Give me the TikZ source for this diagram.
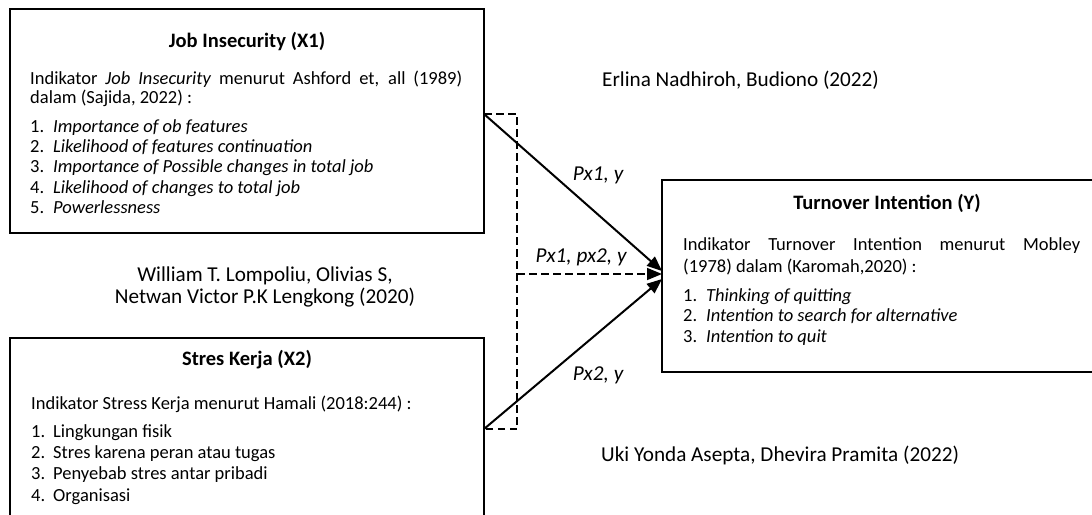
\documentclass[tikz,border=0pt]{standalone}
\usepackage{fontspec}
\setmainfont{Carlito}
\usetikzlibrary{arrows.meta}
\begin{document}
\begin{tikzpicture}[x=1pt,y=-1pt,
  box/.style={draw=black, line width=2.4pt, inner sep=0pt, outer sep=0pt, anchor=north west},
  body/.style={inner sep=0pt, anchor=west, font=\fontsize{18.5}{22}\selectfont, text height=13pt, text depth=4pt},
  ttl/.style={inner sep=0pt, font=\bfseries\fontsize{20.5}{24}\selectfont},
  cite/.style={inner sep=0pt, font=\fontsize{21.2}{22}\selectfont},
  lbl/.style={inner sep=0pt, font=\itshape\fontsize{21.2}{25}\selectfont},
  solidarrow/.style={line width=2pt, -{Triangle[length=15pt,width=12pt]}},
  dashpath/.style={line width=1.6pt, dash pattern=on 7.5pt off 4.5pt}
]
\useasboundingbox (0,0) rectangle (1092,514);
\clip (0,0) rectangle (1092,514);

% boxes
\node[box, minimum width=474pt, minimum height=224pt] (X1) at (10,9) {};
\node[box, minimum width=474pt, minimum height=200pt] (X2) at (10,338) {};
\node[box, minimum width=462pt, minimum height=192pt] (Y) at (662,180) {};

% X1 text
\node[ttl] (tx1) at (247,42) {Job Insecurity (X1)};
\node[body] (ix1a) at (30,80) {\makebox[432pt][s]{Indikator \textit{Job Insecurity} menurut Ashford et, all (1989)}};
\node[body] (ix1b) at (30,99) {dalam (Sajida, 2022) :};
\foreach \n/\yy/\txt in {1/128/Importance of ob features,
                        2/148/Likelihood of features continuation,
                        3/168/Importance of Possible changes in total job,
                        4/189/Likelihood of changes to total job,
                        5/209/Powerlessness}{
  \node[body] (nx1\n) at (30,\yy) {\n.};
  \node[body] (lx1\n) at (53,\yy) {\textit{\txt}};
}

% X2 text
\node[ttl] (tx2) at (247,360) {Stres Kerja (X2)};
\node[body] (ix2) at (31,405) {Indikator Stress Kerja menurut Hamali (2018:244) :};
\foreach \n/\yy/\txt in {1/433/Lingkungan fisik,
                        2/454/Stres karena peran atau tugas,
                        3/475/Penyebab stres antar pribadi,
                        4/497/Organisasi}{
  \node[body] (nx2\n) at (31,\yy) {\n.};
  \node[body] (lx2\n) at (53,\yy) {\txt};
}

% Y text
\node[ttl] (ty) at (887,203) {Turnover Intention (Y)};
\node[body] (iya) at (683,246) {\makebox[397pt][s]{Indikator Turnover Intention menurut Mobley}};
\node[body] (iyb) at (683,268) {(1978) dalam (Karomah,2020) :};
\foreach \n/\yy/\txt in {1/297/Thinking of quitting,
                        2/317/Intention to search for alternative,
                        3/338/Intention to quit}{
  \node[body] (ny\n) at (683,\yy) {\n.};
  \node[body] (ly\n) at (706,\yy) {\textit{\txt}};
}

% citations
\node[cite, anchor=west] (c1) at (602,80) {Erlina Nadhiroh, Budiono (2022)};
\node[cite, align=center] (c2) at (265,287) {William T. Lompoliu, Olivias S,\\Netwan Victor P.K Lengkong (2020)};
\node[cite, anchor=west] (c3) at (601,455) {Uki Yonda Asepta, Dhevira Pramita (2022)};

% path labels
\node[lbl] (p1) at (598,175) {Px1, y};
\node[lbl] (p12) at (581,257) {Px1, px2, y};
\node[lbl] (p2) at (598,375) {Px2, y};

% connectors
\coordinate (s1) at (484,114);
\coordinate (s2) at (484,429);
\coordinate (d1) at (517,114);
\coordinate (d2) at (517,429);
\coordinate (dm) at (517,274);
\coordinate (e1) at (662,271);
\coordinate (e2) at (662,279);
\coordinate (em) at (662,274);
\draw[dashpath] (s1) -- (d1) -- (d2) -- (s2);
\draw[dashpath, -{Triangle[length=15pt,width=12pt]}] (dm) -- (em);
\draw[solidarrow] (s1) -- (e1);
\draw[solidarrow] (s2) -- (e2);
\end{tikzpicture}
\end{document}
